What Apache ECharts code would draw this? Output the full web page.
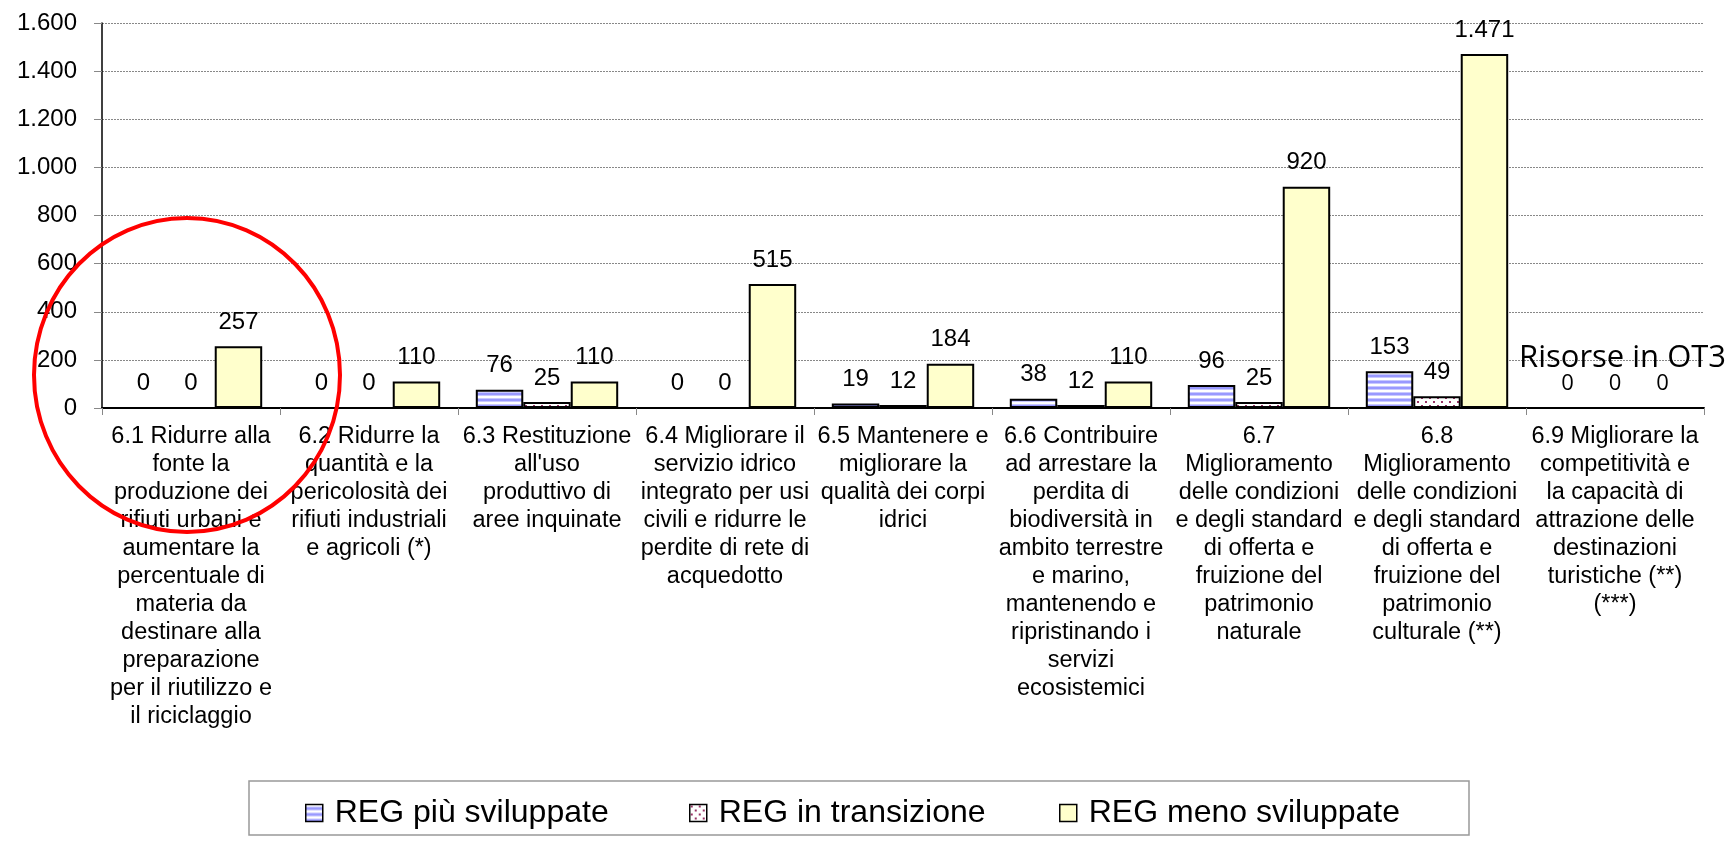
<!DOCTYPE html>
<html>
<head>
<meta charset="utf-8">
<script src="https://cdn.jsdelivr.net/npm/echarts@6/dist/echarts.min.js"></script>
<style>
html,body{margin:0;padding:0;background:#fff;}
#chart{width:1735px;height:863px;}
</style>
</head>
<body>
<div id="chart"></div>
<script>
const categories = [
  "6.1 Ridurre alla\nfonte la\nproduzione dei\nrifiuti urbani e\naumentare la\npercentuale di\nmateria da\ndestinare alla\npreparazione\nper il riutilizzo e\nil riciclaggio",
  "6.2 Ridurre la\nquantità e la\npericolosità dei\nrifiuti industriali\ne agricoli (*)",
  "6.3 Restituzione\nall'uso\nproduttivo di\naree inquinate",
  "6.4 Migliorare il\nservizio idrico\nintegrato per usi\ncivili e ridurre le\nperdite di rete di\nacquedotto",
  "6.5 Mantenere e\nmigliorare la\nqualità dei corpi\nidrici",
  "6.6 Contribuire\nad arrestare la\nperdita di\nbiodiversità in\nambito terrestre\ne marino,\nmantenendo e\nripristinando i\nservizi\necosistemici",
  "6.7\nMiglioramento\ndelle condizioni\ne degli standard\ndi offerta e\nfruizione del\npatrimonio\nnaturale",
  "6.8\nMiglioramento\ndelle condizioni\ne degli standard\ndi offerta e\nfruizione del\npatrimonio\nculturale (**)",
  "6.9 Migliorare la\ncompetitività e\nla capacità di\nattrazione delle\ndestinazioni\nturistiche (**)\n(***)"
];
const seriesNames = ["REG più sviluppate", "REG in transizione", "REG meno sviluppate"];
const regPiuSviluppate = [0, 0, 76, 0, 19, 38, 96, 153, 0];
const regInTransizione = [0, 0, 25, 0, 12, 12, 25, 49, 0];
const regMenoSviluppate = [257, 110, 110, 515, 184, 110, 920, 1471, 0];
const yMin = 0, yMax = 1600, yStep = 200;
const annotationText = "Risorse in OT3";

function fmt(v) {
  return String(Math.round(v)).replace(/\B(?=(\d{3})+(?!\d))/g, ".");
}

function stripePattern() {
  const c = document.createElement("canvas");
  c.width = 6; c.height = 6;
  const g = c.getContext("2d");
  const rows = ["#FFFFFF", "#FFFFFF", "#C8C8FF", "#9999FF", "#9999FF", "#C8C8FF"];
  rows.forEach((col, i) => { g.fillStyle = col; g.fillRect(0, i, 6, 1); });
  return c;
}
function dotPattern() {
  const c = document.createElement("canvas");
  c.width = 8; c.height = 8;
  const g = c.getContext("2d");
  g.fillStyle = "#FFFFFF"; g.fillRect(0, 0, 8, 8);
  g.fillStyle = "#993366";
  g.fillRect(1, 1, 2, 2);
  g.fillRect(5, 5, 2, 2);
  return c;
}

const fills = [
  { image: stripePattern(), repeat: "repeat" },
  { image: dotPattern(), repeat: "repeat" },
  "#FFFFCC"
];
const valueSets = [regPiuSviluppate, regInTransizione, regMenoSviluppate];
const lastIdx = categories.length - 1;

const chart = echarts.init(document.getElementById("chart"), null, { renderer: "canvas" });

const series = seriesNames.map((name, si) => ({
  name: name,
  type: "bar",
  barGap: "0%",
  barCategoryGap: "20%",
  itemStyle: { color: fills[si], borderColor: "#000", borderWidth: 2 },
  label: {
    show: true,
    position: "top",
    distance: 12,
    fontFamily: "Liberation Sans, Arial, sans-serif",
    fontSize: 24,
    color: "#000",
    formatter: p => fmt(p.value)
  },
  data: valueSets[si].map((v, i) => i === lastIdx
    ? { value: v, label: { fontFamily: "Open Sans", fontSize: 22 } }
    : v)
}));

const legendIconLeft = [300, 684, 1054];
const legends = seriesNames.map((name, i) => ({
  data: [name],
  left: legendIconLeft[i],
  top: 792,
  icon: "rect",
  itemWidth: 17,
  itemHeight: 17,
  itemStyle: { borderColor: "#000", borderWidth: 1.5 },
  selectedMode: false,
  textStyle: {
    fontFamily: "Liberation Sans, Arial, sans-serif",
    fontSize: 32,
    color: "#000",
    padding: [0, 0, 0, 7]
  }
}));

chart.setOption({
  animation: false,
  backgroundColor: "#fff",
  grid: { left: 102, right: 31, top: 23, bottom: 455, containLabel: false },
  legend: legends,
  xAxis: {
    type: "category",
    data: categories,
    axisLine: { lineStyle: { color: "#000", width: 2 } },
    axisTick: { show: true, length: 7, lineStyle: { color: "#888" } },
    axisLabel: {
      interval: 0,
      margin: 15,
      fontFamily: "Liberation Sans, Arial, sans-serif",
      fontSize: 23.5,
      lineHeight: 28,
      color: "#000",
      align: "center"
    }
  },
  yAxis: {
    type: "value",
    min: yMin,
    max: yMax,
    interval: yStep,
    axisLine: { show: true, lineStyle: { color: "#000", width: 1.5 } },
    axisTick: { show: true, length: 8, lineStyle: { color: "#888" } },
    axisLabel: {
      margin: 25,
      fontFamily: "Liberation Sans, Arial, sans-serif",
      fontSize: 24,
      color: "#000",
      formatter: v => fmt(v)
    },
    splitLine: { show: true, lineStyle: { color: "#888", width: 1, type: [2, 1] } }
  },
  series: series,
  graphic: [
    {
      type: "rect",
      z: 0,
      silent: true,
      shape: { x: 249, y: 781, width: 1220, height: 54 },
      style: { fill: "none", stroke: "#999", lineWidth: 1.5 }
    },
    {
      type: "text",
      z: 100,
      left: 1519,
      top: 343,
      silent: true,
      style: {
        text: annotationText,
        fontFamily: "Open Sans",
        fontSize: 31,
        fill: "#000"
      }
    },
    {
      type: "ellipse",
      z: 100,
      silent: true,
      shape: { cx: 187, cy: 375, rx: 153, ry: 157 },
      style: { fill: "none", stroke: "#FF0000", lineWidth: 4 }
    }
  ]
});
</script>
</body>
</html>
